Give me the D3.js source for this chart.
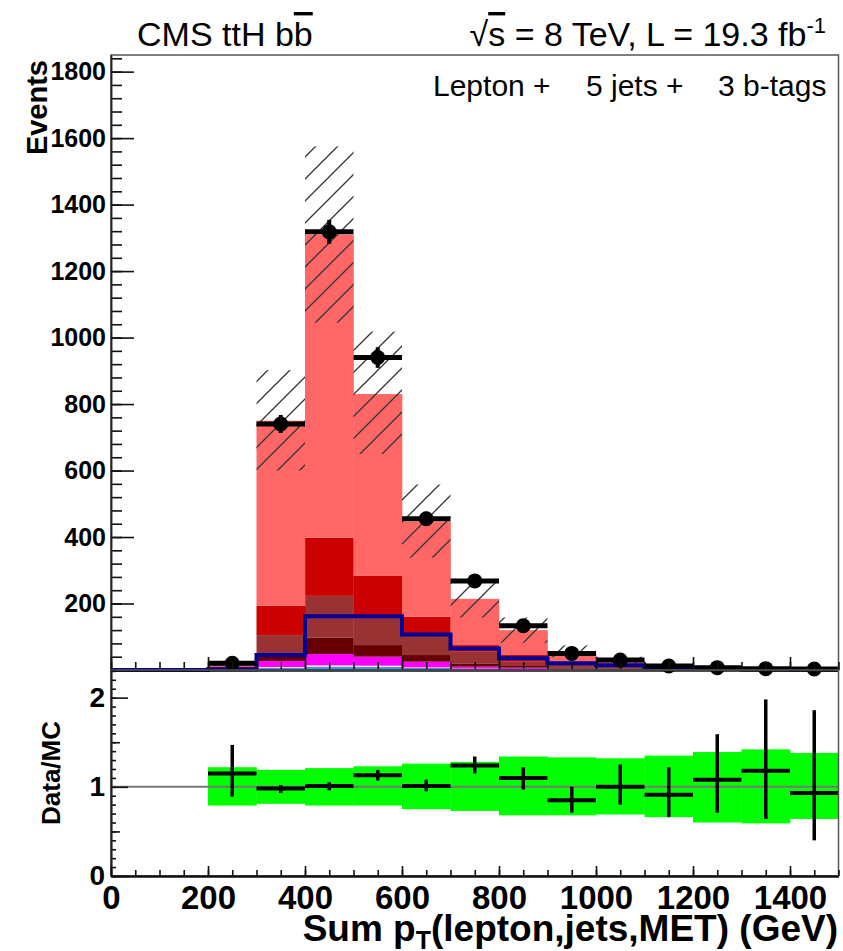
<!DOCTYPE html>
<html>
<head>
<meta charset="utf-8">
<script src="https://cdn.jsdelivr.net/npm/d3@7"></script>
<style>
  body { margin: 0; background: #fff; }
  svg { display: block; }
  text { font-family: "Liberation Sans", Arial, Helvetica, sans-serif; }
</style>
</head>
<body>
<div id="chart-area"></div>
<script>
// bins of Sum pT (GeV), lower edges, width 100
var binLo = [0, 100, 200, 300, 400, 500, 600, 700, 800, 900, 1000, 1100, 1200, 1300, 1400];
var binW = 100;

// stacked MC components, bottom to top (events per bin)
var mcLightBlue = [0, 0, 1, 6, 10, 9, 6, 3, 2, 1, 0.5, 0.3, 0.2, 0.1, 0.1];
var mcPale      = [0, 0, 0.5, 3, 4, 4, 2, 1, 1, 0.5, 0.5, 0.2, 0.1, 0.1, 0.1];
var mcMagenta   = [0, 0, 2.5, 18, 34, 27, 17, 6, 4, 2.5, 1, 0.5, 0.3, 0.2, 0.2];
var mcMaroon    = [0, 0, 2, 18, 50, 35, 20, 10, 5, 4, 3, 1, 0.4, 0.2, 0.2];
var mcBrown     = [0, 0, 2, 60, 125, 90, 60, 35, 13, 7, 4, 2, 1, 0.4, 0.4];
var mcRed       = [0, 0, 3, 88, 175, 118, 55, 20, 20, 10, 5, 2, 1, 0.6, 0.6];
var mcLightRed  = [0, 0, 6, 557, 912, 547, 287, 139, 75, 30, 16, 7, 3.4, 1.8, 1.7];
var stackColors = ["#3399ee", "#ffe0ff", "#ff00ff", "#660000", "#993333", "#cc0000", "#ff6666"];

// signal outline (blue line)
var signal = [0, 0, 2, 45, 162, 162, 107, 65, 35, 20, 14, 6, 3, 1.5, 1];

// MC uncertainty (hatched), lower / upper edge
var uncLo = [0, 0, 13.4, 600, 1045, 650, 338, 158, 82, 38, 21, 8.6, 3.8, 2, 2.1];
var uncHi = [0, 0, 20.7, 902, 1575, 1018, 558, 275, 158, 74, 40, 17.5, 8.9, 4.8, 4.4];

// data
var dataVal = [null, null, 20, 740, 1318, 940, 455, 268, 133, 50, 30, 12, 7, 4, 3];
var dataErr = [0, 0, 5, 27, 36, 31, 21, 16, 12, 7, 5.5, 3.5, 2.6, 2, 1.7];

// ratio panel
var ratioVal = [null, null, 1.15, 0.98, 1.01, 1.13, 1.01, 1.24, 1.10, 0.85, 1.0, 0.91, 1.08, 1.18, 0.93];
var ratioLo  = [null, null, 0.89, 0.93, 0.96, 1.07, 0.95, 1.15, 0.97, 0.71, 0.80, 0.66, 0.71, 0.64, 0.40];
var ratioHi  = [null, null, 1.47, 1.02, 1.05, 1.19, 1.08, 1.34, 1.22, 1.0, 1.25, 1.22, 1.59, 1.98, 1.86];
var bandLo   = [null, null, 0.79, 0.81, 0.79, 0.79, 0.75, 0.73, 0.68, 0.68, 0.69, 0.66, 0.60, 0.59, 0.64];
var bandHi   = [null, null, 1.22, 1.19, 1.21, 1.23, 1.26, 1.28, 1.34, 1.33, 1.32, 1.35, 1.39, 1.42, 1.38];

var xTickLabels = [0, 200, 400, 600, 800, 1000, 1200, 1400];
var yTickLabels = [200, 400, 600, 800, 1000, 1200, 1400, 1600, 1800];
var rTickLabels = [0, 1, 2];

// layout
const W = 843, H = 951;
const left = 111, right = 838.5;
const mainTop = 55, mainBot = 670, ratBot = 876;
const bold = "Liberation Sans, Arial, sans-serif";

const svg = d3.select("#chart-area").append("svg")
  .attr("width", W).attr("height", H);

const defs = svg.append("defs");
const pat = defs.append("pattern")
  .attr("id", "hatch")
  .attr("patternUnits", "userSpaceOnUse")
  .attr("width", 22).attr("height", 22);
pat.append("path")
  .attr("d", "M0,22 L22,0 M-11,11 L11,-11 M11,33 L33,11")
  .attr("stroke", "#333").attr("stroke-width", 1.3);

const x = d3.scaleLinear().domain([0, 1500]).range([left, right]);
const y = d3.scaleLinear().domain([0, 1850]).range([mainBot, mainTop]);
const yr = d3.scaleLinear().domain([0, 2.31]).range([ratBot, mainBot]);

const bins = binLo.map((lo, i) => ({ i: i, lo: lo, hi: lo + binW }));

// ---- main panel: stack
var comps = [mcLightBlue, mcPale, mcMagenta, mcMaroon, mcBrown, mcRed, mcLightRed];
var cum = binLo.map(() => 0);
comps.forEach(function(c, k) {
  var base = cum.slice();
  cum = cum.map((v, i) => v + c[i]);
  var top = cum.slice();
  svg.append("g").selectAll("rect")
    .data(bins.filter(b => c[b.i] > 0))
    .enter().append("rect")
    .attr("x", d => x(d.lo))
    .attr("width", d => x(d.hi) - x(d.lo) + 0.3)
    .attr("y", d => y(top[d.i]))
    .attr("height", d => y(base[d.i]) - y(top[d.i]))
    .attr("fill", stackColors[k]);
});

// signal outline
var sigPts = bins.map(b => [b.lo, signal[b.i]]);
sigPts.push([1500, signal[signal.length - 1]]);
svg.append("path")
  .datum(sigPts)
  .attr("d", d3.line().x(d => x(d[0])).y(d => y(d[1])).curve(d3.curveStepAfter))
  .attr("fill", "none")
  .attr("stroke", "#000099")
  .attr("stroke-width", 4);

// hatched uncertainty
svg.append("g").selectAll("rect")
  .data(bins.filter(b => uncHi[b.i] > 0))
  .enter().append("rect")
  .attr("x", d => x(d.lo))
  .attr("width", d => x(d.hi) - x(d.lo))
  .attr("y", d => y(uncHi[d.i]))
  .attr("height", d => y(uncLo[d.i]) - y(uncHi[d.i]))
  .attr("fill", "url(#hatch)");

// data points
var dPts = bins.filter(b => dataVal[b.i] != null);
var dg = svg.append("g");
dg.selectAll(".hbar").data(dPts).enter().append("line")
  .attr("x1", d => x(d.lo)).attr("x2", d => x(d.hi))
  .attr("y1", d => y(dataVal[d.i])).attr("y2", d => y(dataVal[d.i]))
  .attr("stroke", "#000").attr("stroke-width", 5);
dg.selectAll(".vbar").data(dPts).enter().append("line")
  .attr("x1", d => x(d.lo + binW / 2)).attr("x2", d => x(d.lo + binW / 2))
  .attr("y1", d => y(dataVal[d.i] + dataErr[d.i])).attr("y2", d => y(Math.max(0, dataVal[d.i] - dataErr[d.i])))
  .attr("stroke", "#000").attr("stroke-width", 4);
dg.selectAll("circle").data(dPts).enter().append("circle")
  .attr("cx", d => x(d.lo + binW / 2))
  .attr("cy", d => y(dataVal[d.i]))
  .attr("r", 7.5)
  .attr("fill", "#000");

// frame main
svg.append("rect")
  .attr("x", left).attr("y", mainTop)
  .attr("width", right - left).attr("height", mainBot - mainTop)
  .attr("fill", "none").attr("stroke", "#555").attr("stroke-width", 1.5);

// main y axis
const yMajor = d3.axisLeft(y).tickValues([0].concat(yTickLabels))
  .tickSizeInner(-23).tickSizeOuter(0).tickPadding(5)
  .tickFormat(d => d === 0 ? "" : d3.format("d")(d));
const yMinor = d3.axisLeft(y).tickValues(d3.range(0, 1850, 40))
  .tickSizeInner(-11).tickSizeOuter(0).tickFormat("");
const gy = svg.append("g").attr("transform", `translate(${left},0)`).call(yMinor);
const gy2 = svg.append("g").attr("transform", `translate(${left},0)`).call(yMajor);
[gy, gy2].forEach(g => {
  g.select(".domain").attr("stroke", "#222").attr("stroke-width", 1.5);
  g.selectAll(".tick line").attr("stroke", "#111").attr("stroke-width", 1.6);
});
gy2.selectAll("text")
  .attr("font-size", 25).attr("font-weight", "bold")
  .attr("font-family", bold).attr("fill", "#000");

// main x ticks (no labels)
const xMainMinor = d3.axisBottom(x).tickValues(d3.range(0, 1501, 50))
  .tickSizeInner(-8).tickSizeOuter(0).tickFormat("");
const xMainMajor = d3.axisBottom(x).tickValues(xTickLabels)
  .tickSizeInner(-13).tickSizeOuter(0).tickFormat("");
[xMainMinor, xMainMajor].forEach(a => {
  const g = svg.append("g").attr("transform", `translate(0,${mainBot})`).call(a);
  g.select(".domain").attr("stroke", "#111").attr("stroke-width", 2);
  g.selectAll(".tick line").attr("stroke", "#111").attr("stroke-width", 1.6);
});

// ---- ratio panel
svg.append("g").selectAll("rect")
  .data(bins.filter(b => bandLo[b.i] != null))
  .enter().append("rect")
  .attr("x", d => x(d.lo))
  .attr("width", d => x(d.hi) - x(d.lo) + 0.3)
  .attr("y", d => yr(bandHi[d.i]))
  .attr("height", d => yr(bandLo[d.i]) - yr(bandHi[d.i]))
  .attr("fill", "#00ff00");

svg.append("line")
  .attr("x1", left).attr("x2", right)
  .attr("y1", yr(1)).attr("y2", yr(1))
  .attr("stroke", "#777").attr("stroke-width", 2);

var rPts = bins.filter(b => ratioVal[b.i] != null);
var rg = svg.append("g");
rg.selectAll(".hbar").data(rPts).enter().append("line")
  .attr("x1", d => x(d.lo)).attr("x2", d => x(d.hi))
  .attr("y1", d => yr(ratioVal[d.i])).attr("y2", d => yr(ratioVal[d.i]))
  .attr("stroke", "#000").attr("stroke-width", 4);
rg.selectAll(".vbar").data(rPts).enter().append("line")
  .attr("x1", d => x(d.lo + binW / 2)).attr("x2", d => x(d.lo + binW / 2))
  .attr("y1", d => yr(ratioHi[d.i])).attr("y2", d => yr(ratioLo[d.i]))
  .attr("stroke", "#000").attr("stroke-width", 3.5);

svg.append("rect")
  .attr("x", left).attr("y", mainBot)
  .attr("width", right - left).attr("height", ratBot - mainBot)
  .attr("fill", "none").attr("stroke", "#555").attr("stroke-width", 1.5);

// ratio y axis
const rMinor = d3.axisLeft(yr).tickValues(d3.range(0, 2.31, 0.1))
  .tickSizeInner(-5).tickSizeOuter(0).tickFormat("");
const rMid = d3.axisLeft(yr).tickValues([0.5, 1.5])
  .tickSizeInner(-9).tickSizeOuter(0).tickFormat("");
const rMajor = d3.axisLeft(yr).tickValues(rTickLabels)
  .tickSizeInner(-17).tickSizeOuter(0).tickPadding(6).tickFormat(d3.format("d"));
[rMinor, rMid, rMajor].forEach(a => {
  const g = svg.append("g").attr("transform", `translate(${left},0)`).call(a);
  g.select(".domain").attr("stroke", "#222").attr("stroke-width", 1.5);
  g.selectAll(".tick line").attr("stroke", "#111").attr("stroke-width", 1.6);
  g.selectAll("text").attr("font-size", 28).attr("font-weight", "bold")
    .attr("font-family", bold).attr("fill", "#000");
});

// ratio x axis with labels
const xrMinor = d3.axisBottom(x).tickValues(d3.range(0, 1501, 50))
  .tickSizeInner(-6).tickSizeOuter(0).tickFormat("");
const xrMajor = d3.axisBottom(x).tickValues(xTickLabels)
  .tickSizeInner(-10).tickSizeOuter(0).tickPadding(10).tickFormat(d3.format("d"));
[xrMinor, xrMajor].forEach(a => {
  const g = svg.append("g").attr("transform", `translate(0,${ratBot})`).call(a);
  g.select(".domain").attr("stroke", "#111").attr("stroke-width", 2);
  g.selectAll(".tick line").attr("stroke", "#111").attr("stroke-width", 1.6);
  g.selectAll("text").attr("font-size", 33).attr("font-weight", "bold")
    .attr("font-family", bold).attr("fill", "#000");
});

// ---- texts
const t1 = svg.append("text").attr("x", 137).attr("y", 46)
  .attr("font-size", 34).attr("fill", "#000");
t1.append("tspan").text("CMS ttH b");
t1.append("tspan").style("text-decoration", "overline").text("b");

const t2 = svg.append("text").attr("x", 826).attr("y", 46)
  .attr("text-anchor", "end").attr("font-size", 34).attr("fill", "#000");
t2.append("tspan").text("√");
t2.append("tspan").style("text-decoration", "overline").text("s");
t2.append("tspan").text(" = 8 TeV, L = 19.3 fb");
t2.append("tspan").attr("font-size", 22).attr("dy", -13).text("-1");

// category label, three pieces as in the original spacing
[["Lepton +", 433], ["5 jets +", 586], ["3 b-tags", 718]].forEach(p => {
  svg.append("text").attr("x", p[1]).attr("y", 96)
    .attr("font-size", 30)
    .text(p[0]);
});

svg.append("text")
  .attr("transform", "translate(47,60) rotate(-90)")
  .attr("text-anchor", "end").attr("font-size", 29).attr("font-weight", "bold")
  .text("Events");

svg.append("text")
  .attr("transform", "translate(60,773) rotate(-90)")
  .attr("text-anchor", "middle").attr("font-size", 26).attr("font-weight", "bold")
  .text("Data/MC");

const xt = svg.append("text").attr("x", 838).attr("y", 941)
  .attr("text-anchor", "end").attr("font-size", 37).attr("font-weight", "bold");
xt.append("tspan").text("Sum p");
xt.append("tspan").attr("font-size", 25).attr("dy", 8).text("T");
xt.append("tspan").attr("dy", -8).text("(lepton,jets,MET) (GeV)");
</script>
</body>
</html>
